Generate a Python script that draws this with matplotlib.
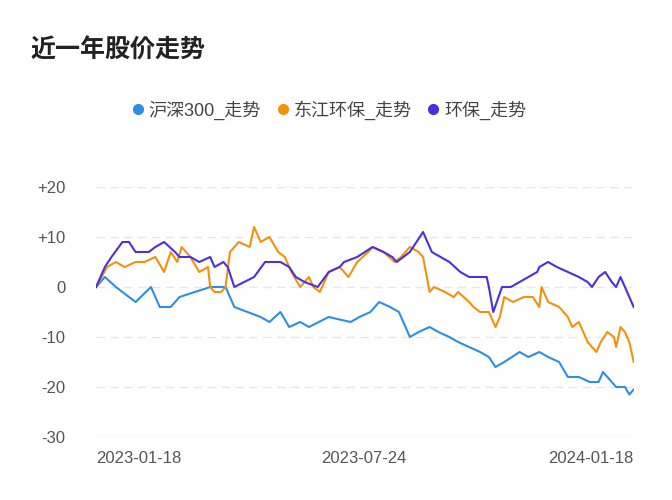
import matplotlib
matplotlib.use("Agg")
import matplotlib.pyplot as plt
from matplotlib import font_manager

avail = {f.name for f in font_manager.fontManager.ttflist}
cjk = [f for f in ["Noto Sans CJK SC", "Noto Sans CJK JP", "Noto Sans CJK TC", "Noto Sans CJK KR"] if f in avail]
plt.rcParams["font.family"] = ["Liberation Sans"] + cjk + ["DejaVu Sans"]

names = ["沪深300_走势", "东江环保_走势", "环保_走势"]
colors = ["#2d8ee8", "#f2920c", "#4b2fe0"]

hs_days = [0,4,9,18,25,29,34,38,52,59,63,75,79,84,88,93,97,106,116,120,125,129,134,138,140,143,147,152,156,161,165,170,175,179,182,186,193,197,202,206,211,215,220,225,229,231,235,237,241,243,245]
hs_vals = [0,2,0,-3,0,-4,-4,-2,0,0,-4,-6,-7,-5,-8,-7,-8,-6,-7,-6,-5,-3,-4,-5,-7,-10,-9,-8,-9,-10,-11,-12,-13,-14,-16,-15,-13,-14,-13,-14,-15,-18,-18,-19,-19,-17,-19,-20,-20,-21.5,-20.5]

dj_days = [0,5,9,13,18,22,27,31,34,37,39,43,47,51,52,54,57,59,61,65,70,72,75,79,83,86,89,93,97,99,102,106,111,115,119,124,126,131,136,139,143,147,149,152,154,159,163,165,170,172,175,179,182,184,186,190,195,199,202,203,206,211,215,217,220,224,228,230,233,236,237,239,241,243,245]
dj_vals = [0,4,5,4,5,5,6,3,7,5,8,6,3,4,0,-1,-1,0,7,9,8,12,9,10,7,6,3,0,2,0,-1,3,4,2,5,7,8,7,5,6,8,7,6,-1,0,-1,-2,-1,-3,-4,-5,-5,-8,-6,-2,-3,-2,-2,-4,0,-3,-4,-6,-8,-7,-11,-13,-11,-9,-10,-12,-8,-9,-11,-15]

hb_days = [0,4,7,12,15,18,24,27,31,36,38,43,47,52,54,58,60,63,72,77,84,88,91,95,101,106,111,113,119,126,131,135,137,143,146,149,153,157,161,166,170,178,179,181,185,189,193,201,202,206,210,215,220,224,226,229,232,235,237,239,245]
hb_vals = [0,4,6,9,9,7,7,8,9,7,6,6,5,6,4,5,4,0,2,5,5,4,2,1,0,3,4,5,6,8,7,6,5,7,9,11,7,6,5,3,2,2,0,-5,0,0,1,3,4,5,4,3,2,1,0,2,3,1,0,2,-4]

series = [(hs_days, hs_vals), (dj_days, dj_vals), (hb_days, hb_vals)]
yticks = [20, 10, 0, -10, -20, -30]
ytick_labels = ["+20", "+10", "0", "-10", "-20", "-30"]
xticks = [0, 122, 245]
xtick_labels = ["2023-01-18", "2023-07-24", "2024-01-18"]

fig = plt.figure(figsize=(6.72, 5.0), dpi=100)
ax = fig.add_axes([0.143, 0.126, 0.8, 0.5])
for (d, v), c, n in zip(series, colors, names):
    ax.plot(d, v, color=c, lw=1.5, label=n)

ax.set_xlim(0, 245)
ax.set_ylim(-30, 20)
ax.set_yticks(yticks)
ax.set_yticklabels(ytick_labels)
for y in yticks:
    if y == -30:
        ax.axhline(y, color="#e6e6e6", lw=1, zorder=0)
    else:
        ax.axhline(y, color="#e6e6e6", lw=1, ls=(0, (6, 4)), zorder=0)
ax.set_xticks(xticks)
ax.set_xticklabels(xtick_labels)
for lab, ha in zip(ax.get_xticklabels(), ["left", "center", "right"]):
    lab.set_ha(ha)
for s in ax.spines.values():
    s.set_visible(False)
ax.tick_params(length=0, labelsize=12, colors="#555555")
ax.tick_params(axis="x", pad=10)
ax.tick_params(axis="y", pad=22)

fig.text(0.045, 0.9, "近一年股价走势", fontsize=18, fontweight="bold", color="#222222", va="center")
handles = [plt.Line2D([], [], ls="", marker="o", ms=7, color=c) for c in colors]
fig.legend(handles, names, loc="center", bbox_to_anchor=(0.49, 0.78), ncol=3, frameon=False,
           handlelength=0.6, handletextpad=0.3, columnspacing=0.9, fontsize=13, labelcolor="#444444")

fig.savefig("out.png", dpi=100)
